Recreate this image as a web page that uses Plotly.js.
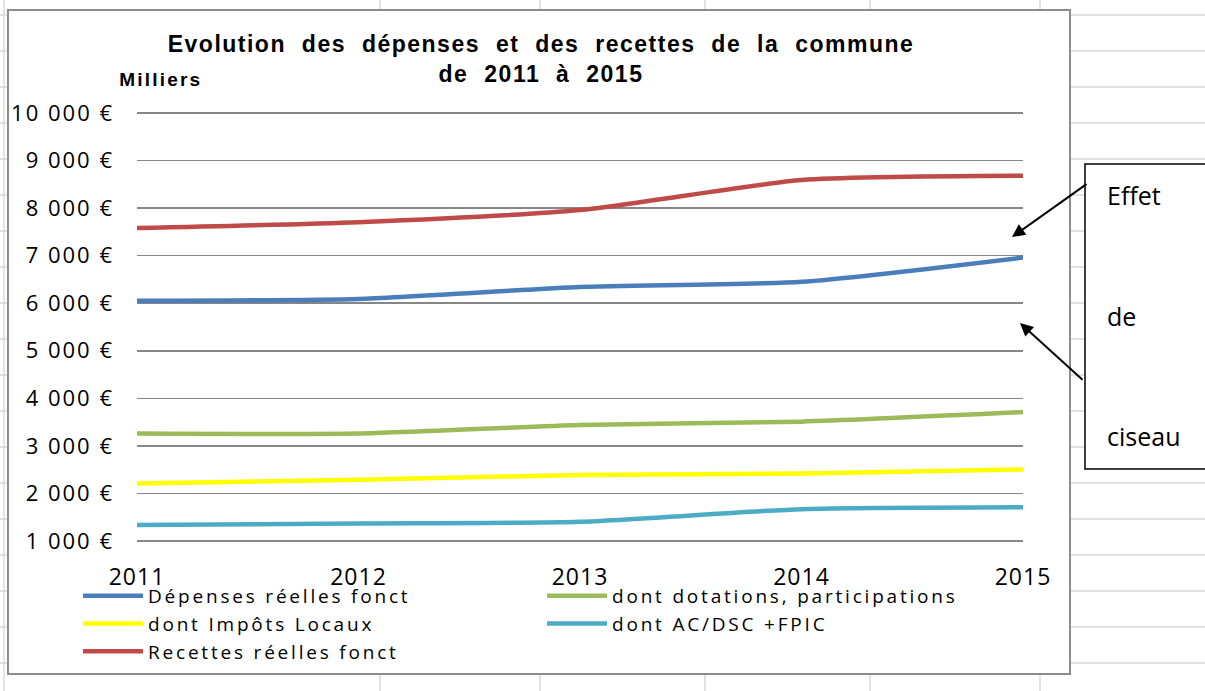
<!DOCTYPE html>
<html>
<head>
<meta charset="utf-8">
<script src="https://cdn.plot.ly/plotly-3.0.1.min.js"></script>
<style>
  body{margin:0;background:#fff;}
  #chart{width:1205px;height:691px;}
  .gtitle{letter-spacing:1.5px;word-spacing:8px;}
  .legendtext{letter-spacing:2.8px;}
  .ytick text{letter-spacing:2px;}
  .xtick text{letter-spacing:1px;}
  .annotation[data-index="0"] .annotation-text{letter-spacing:2.2px;}
</style>
</head>
<body>
<div id="chart"></div>
<script>
// values (milliers d'euros)
const years=[2011,2012,2013,2014,2015];
const depenses=[6050,6090,6340,6450,6960];
const dotations=[3260,3260,3440,3510,3710];
const impots=[2210,2290,2390,2420,2505];
const acDsc=[1335,1370,1405,1670,1710];
const recettes=[7580,7705,7960,8590,8680];

const seriesNames=['Dépenses réelles fonct','dont dotations, participations','dont Impôts Locaux','dont AC/DSC +FPIC','Recettes réelles fonct'];
const seriesColors=['#4a7ebb','#9bbb59','#ffff00','#4bacc6','#be4b48'];
const seriesData=[depenses,dotations,impots,acDsc,recettes];

const yTickVals=[1000,2000,3000,4000,5000,6000,7000,8000,9000,10000];
const yTickText=yTickVals.map(v=>String(v).replace(/\B(?=(\d{3})+(?!\d))/g,' ')+' €');
const xTickText=years.map(String);

// pixel -> paper helpers (plot area: x 137..1023, y 110..544, 1000..10000 sits at 541..113)
const L=137,R=1023,T=110,B=544;
const fx=p=>(p-L)/(R-L);
const fy=p=>(B-p)/(B-T);

const traces=seriesData.map((d,i)=>({
  x:years, y:d, type:'scatter', mode:'lines', name:seriesNames[i],
  line:{color:seriesColors[i],width:4.5,shape:'spline',smoothing:0.6}
}));

const shapes=[];
// spreadsheet grid behind the chart
for(let y=15;y<=691;y+=36){
  shapes.push({type:'line',xref:'paper',yref:'paper',x0:fx(0),x1:fx(1205),y0:fy(y),y1:fy(y),line:{color:'#d9d9d9',width:1.5},layer:'below'});
}
[4,380,540,705,870,1040].forEach(x=>{
  shapes.push({type:'line',xref:'paper',yref:'paper',x0:fx(x),x1:fx(x),y0:fy(0),y1:fy(691),line:{color:'#d9d9d9',width:1.5},layer:'below'});
});
// chart area
shapes.push({type:'rect',xref:'paper',yref:'paper',x0:fx(8),x1:fx(1070),y0:fy(10),y1:fy(674),fillcolor:'#ffffff',line:{color:'#8c8c8c',width:2},layer:'below'});
// text box
shapes.push({type:'rect',xref:'paper',yref:'paper',x0:fx(1085),x1:fx(1240),y0:fy(164),y1:fy(469),fillcolor:'#ffffff',line:{color:'#000000',width:1.5},layer:'below'});

const boxFont={family:'Open Sans, sans-serif',size:25,color:'#000'};
const annotations=[
  {xref:'paper',yref:'paper',x:fx(160),y:fy(80),xanchor:'center',yanchor:'middle',text:'Milliers',showarrow:false,font:{family:'Liberation Sans, Arial, sans-serif',size:19,color:'#000',weight:'bold'}},
  {xref:'paper',yref:'paper',x:fx(1105),y:fy(195),xanchor:'left',yanchor:'middle',text:'Effet',showarrow:false,font:boxFont},
  {xref:'paper',yref:'paper',x:fx(1105),y:fy(316),xanchor:'left',yanchor:'middle',text:'de',showarrow:false,font:boxFont},
  {xref:'paper',yref:'paper',x:fx(1105),y:fy(436),xanchor:'left',yanchor:'middle',text:'ciseau',showarrow:false,font:boxFont},
  {xref:'paper',yref:'paper',x:fx(1012),y:fy(237),ax:76,ay:-54,text:'',showarrow:true,arrowhead:2,arrowsize:1.3,arrowwidth:2,arrowcolor:'#000'},
  {xref:'paper',yref:'paper',x:fx(1020),y:fy(323),ax:64,ay:58,text:'',showarrow:true,arrowhead:2,arrowsize:1.3,arrowwidth:2,arrowcolor:'#000'}
];

const yPad=3*9000/428; // three pixels of value so the 1000 and 10000 gridlines stay drawn
const layout={
  width:1205,height:691,
  margin:{l:L,r:1205-R,t:T,b:691-B},
  paper_bgcolor:'#ffffff',plot_bgcolor:'rgba(0,0,0,0)',
  title:{text:'Evolution des dépenses et des recettes de la commune<br>de 2011 à 2015',
    xref:'container',x:541/1205,xanchor:'center',yref:'container',y:1-52/691,yanchor:'top',
    font:{family:'Liberation Sans, Arial, sans-serif',size:23,color:'#000',weight:'bold'}},
  xaxis:{range:[2011,2015],tickvals:years,ticktext:xTickText,showgrid:false,zeroline:false,showline:false,
    ticks:'',ticklabelstandoff:17,tickfont:{family:'Open Sans, sans-serif',size:23,color:'#000'},fixedrange:true},
  yaxis:{range:[1000-yPad,10000+yPad],tickvals:yTickVals,ticktext:yTickText,showgrid:true,gridcolor:'#868686',gridwidth:1.5,
    zeroline:false,showline:false,ticks:'',ticklabelstandoff:22,tickfont:{family:'Open Sans, sans-serif',size:22,color:'#000'},fixedrange:true},
  showlegend:true,
  legend:{orientation:'h',x:fx(78),xanchor:'left',y:fy(577),yanchor:'top',itemwidth:60,
    entrywidth:389,entrywidthmode:'pixels',bgcolor:'rgba(0,0,0,0)',traceorder:'normal',
    font:{family:'Open Sans, sans-serif',size:19,color:'#000'}},
  shapes:shapes,
  annotations:annotations
};

Plotly.newPlot('chart',traces,layout,{displayModeBar:false,staticPlot:true});
</script>
</body>
</html>
